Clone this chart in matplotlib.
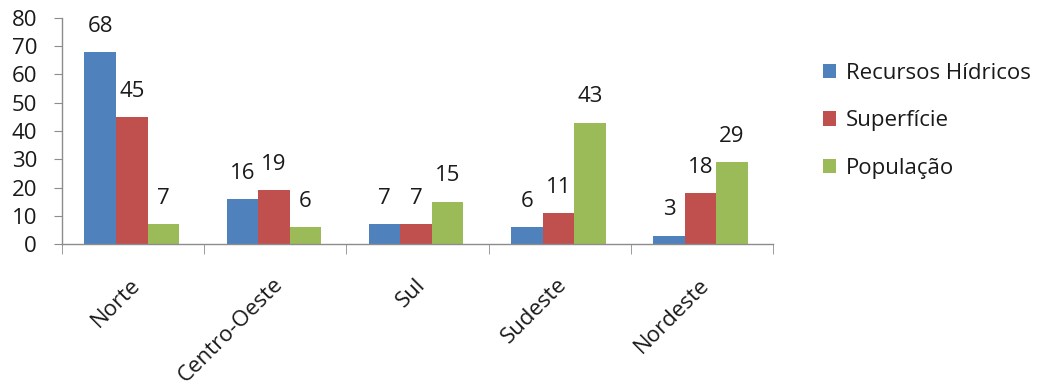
import matplotlib
matplotlib.use("Agg")
import matplotlib.pyplot as plt
import matplotlib.transforms as mtransforms
import numpy as np

regions = ["Norte", "Centro-Oeste", "Sul", "Sudeste", "Nordeste"]
recursos_hidricos = [68, 16, 7, 6, 3]
superficie = [45, 19, 7, 11, 18]
populacao = [7, 6, 15, 43, 29]
series_names = ["Recursos Hídricos", "Superfície", "População"]
colors = ["#4F81BD", "#C0504D", "#9BBB59"]

plt.rcParams['font.family'] = ['Open Sans', 'DejaVu Sans']
FS = 16
TXT = "#1a1a1a"
AXC = "#8c8c8c"

fig = plt.figure(figsize=(10.41, 3.87), dpi=100)
ax = fig.add_axes([0.0596, 0.3695, 0.683, 0.584])

x = np.arange(len(regions))
w = 0.222
series = [recursos_hidricos, superficie, populacao]
for i, (vals, name, c) in enumerate(zip(series, series_names, colors)):
    bars = ax.bar(x + (i - 1) * w - 0.01, vals, w, color=c, label=name, zorder=2)
    for b, v in zip(bars, vals):
        ax.annotate(str(v), (b.get_x() + b.get_width() / 2, b.get_height()),
                    xytext=(0, 11), textcoords="offset points",
                    ha="center", va="bottom", fontsize=FS, color=TXT)

ax.set_xlim(-0.5, len(regions) - 0.5)
ax.set_ylim(0, 80)
ax.set_yticks(range(0, 81, 10))
ax.tick_params(axis="y", labelsize=FS, length=6, color=AXC, pad=12,
               labelcolor=TXT)

# region names under each group; category boundaries marked with minor ticks
ax.set_xticks(x)
ax.set_xticklabels(regions, rotation=45, ha="right", va="center",
                   rotation_mode="anchor", fontsize=FS, color=TXT)
ax.tick_params(axis="x", which="major", length=0, pad=27)
ax.set_xticks(np.arange(-0.5, len(regions), 1.0), minor=True)
ax.tick_params(axis="x", which="minor", length=7, color=AXC)

offset = mtransforms.ScaledTranslation(3 / 72, 0, fig.dpi_scale_trans)
for lbl in ax.get_xticklabels():
    lbl.set_transform(lbl.get_transform() + offset)

for side in ["top", "right"]:
    ax.spines[side].set_visible(False)
for side in ["left", "bottom"]:
    ax.spines[side].set_color(AXC)
    ax.spines[side].set_linewidth(1.0)

fig.legend(loc="upper left", bbox_to_anchor=(0.782, 0.861), frameon=False,
           fontsize=FS, handlelength=0.6, handleheight=0.6,
           handletextpad=0.45, labelspacing=1.2, borderaxespad=0,
           labelcolor=TXT)

fig.savefig("out.png", dpi=100)
